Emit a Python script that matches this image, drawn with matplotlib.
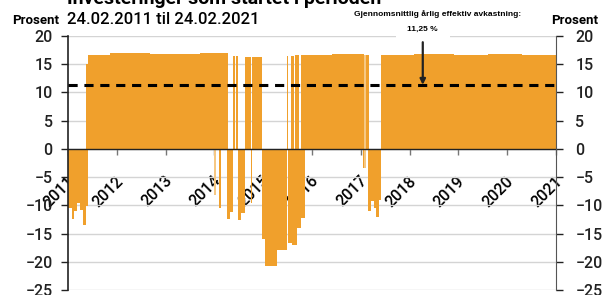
import numpy as np
import matplotlib
matplotlib.use('Agg')
import matplotlib.pyplot as plt
from matplotlib.transforms import ScaledTranslation

narrow = 'Roboto'

# segments (decimal years, value in percent)
seg_start = [2011.00, 2011.08, 2011.12, 2011.18, 2011.25, 2011.31, 2011.37,
             2011.37, 2011.41, 2011.86, 2012.68, 2013.70,
             2014.09, 2014.26, 2014.32, 2014.39, 2014.44, 2014.49, 2014.55,
             2014.63, 2014.74, 2014.78, 2014.97, 2015.04, 2015.28,
             2015.48, 2015.51, 2015.56, 2015.58, 2015.66, 2015.69, 2015.75,
             2015.77, 2016.40, 2017.04, 2017.10,
             2017.15, 2017.20, 2017.27, 2017.31, 2017.37,
             2017.41, 2018.10, 2018.90, 2019.60, 2020.30]
seg_end = [2011.08, 2011.12, 2011.18, 2011.25, 2011.31, 2011.37, 2011.41,
           2011.41, 2011.86, 2012.68, 2013.70, 2014.28,
           2014.13, 2014.32, 2014.39, 2014.42, 2014.49, 2014.55, 2014.63,
           2014.74, 2014.78, 2014.97, 2015.04, 2015.28, 2015.48,
           2015.51, 2015.58, 2015.64, 2015.69, 2015.74, 2015.77, 2015.86,
           2016.40, 2017.07, 2017.07, 2017.16,
           2017.20, 2017.27, 2017.31, 2017.37, 2017.41,
           2018.10, 2018.90, 2019.60, 2020.30, 2021.00]
seg_value = [-10.5, -12.5, -11.0, -9.5, -10.8, -13.5, -10.2,
             15.0, 16.6, 16.9, 16.8, 16.9,
             -10.5, -12.4, -11.1, 16.5, 16.5, -12.6, -11.4,
             16.3, -9.6, 16.2, -16.0, -20.8, -18.0,
             16.5, -16.7, 16.5, -17.0, 16.6, -14.0, -12.2,
             16.7, 16.8, -3.4, 16.6,
             -11.0, -9.3, -10.5, -12.0, -9.0,
             16.7, 16.8, 16.7, 16.8, 16.7]

# thin, partly covered days (drawn lighter)
faint_start = [2013.99, 2017.07, 2017.07]
faint_end = [2014.03, 2017.10, 2017.10]
faint_value = [-8.1, 16.6, -3.4]

avg_return = 11.25
avg_label = '11,25 %'
years = list(range(2011, 2022))

orange = '#F0A02C'

fig = plt.figure(figsize=(6.05, 2.95), dpi=100)
ax = fig.add_axes([68/605, 1-290/295, 488/605, 254/295])

ax.bar(seg_start, seg_value, width=np.array(seg_end) - np.array(seg_start),
       align='edge', color=orange, linewidth=0, zorder=2)
ax.bar(faint_start, faint_value, width=np.array(faint_end) - np.array(faint_start),
       align='edge', color='#F6C884', linewidth=0, zorder=2)

ax.axhline(avg_return, color='black', lw=2.2, dashes=(3, 2.2), zorder=4)
ax.axhline(0, color='#222222', lw=1.0, zorder=3)

ax.set_xlim(2011, 2021)
ax.set_ylim(-25, 20)
ax.set_yticks(range(-25, 21, 5))
ax.yaxis.grid(True, color='#d4d4d4', lw=1.0, zorder=0)
ax.set_axisbelow(True)

for s in ['top', 'right', 'bottom']:
    ax.spines[s].set_visible(False)
ax.spines['left'].set_color('#222222')
ax.spines['left'].set_linewidth(1.2)

ax.tick_params(axis='y', direction='out', length=5, width=1, pad=6,
               labelsize=11.5, colors='#222222')
ax.set_xticks(years)
ax.set_xticklabels([str(y) for y in years])
ax.tick_params(axis='x', direction='out', length=4, width=1, color='#777777',
               pad=0, labelsize=11.5)
# x ticks sit on the zero line
ax.spines['bottom'].set_position(('data', 0))
for lbl in ax.get_xticklabels():
    lbl.set_rotation(45)
    lbl.set_ha('center')
    lbl.set_va('center')
    lbl.set_fontfamily(narrow)
    lbl.set_fontweight('medium')
    lbl.set_transform(lbl.get_transform() + ScaledTranslation(-9/100, -37/100, fig.dpi_scale_trans))
for lbl in ax.get_yticklabels():
    lbl.set_fontfamily(narrow)
    lbl.set_fontweight('medium')

ax2 = ax.twinx()
ax2.set_ylim(-25, 20)
ax2.set_yticks(range(-25, 21, 5))
for s in ['top', 'left', 'bottom']:
    ax2.spines[s].set_visible(False)
ax2.spines['right'].set_color('#555555')
ax2.tick_params(axis='y', direction='out', length=5, width=1, pad=9,
                labelsize=11.5, colors='#222222')
for lbl in ax2.get_yticklabels():
    lbl.set_fontfamily(narrow)
    lbl.set_fontweight('medium')

# titles (top line is cut off in the original)
fig.text(67/605, 1-3.5/295, 'Investeringer som startet i perioden', fontsize=14,
         fontweight='bold', family=narrow, va='baseline', ha='left')
fig.text(67/605, 1-20/295, '24.02.2011 til 24.02.2021', fontsize=12,
         family=narrow, fontweight='medium', va='center', ha='left')
fig.text(12/605, 1-20/295, 'Prosent', fontsize=9.5, family=narrow,
         fontweight='bold', va='center', ha='left')
fig.text(551/605, 1-20/295, 'Prosent', fontsize=9.5, family=narrow,
         fontweight='bold', va='center', ha='left')

# annotation
fig.text(438/605, 1-14/295, 'Gjennomsnittlig årlig effektiv avkastning:',
         fontsize=6, fontweight='bold', family='Liberation Sans', ha='center', va='center')
ax.text(2018.27, 21.2, avg_label, fontsize=6, fontweight='bold',
        family='Liberation Sans', ha='center', va='center', zorder=5, clip_on=False,
        bbox=dict(facecolor='white', edgecolor='none', boxstyle='square,pad=1.4'))
ax.annotate('', xy=(2018.27, avg_return + 0.1), xytext=(2018.27, 18.9),
            arrowprops=dict(arrowstyle='-|>', color='#222222', lw=1.6,
                            mutation_scale=8, shrinkA=0, shrinkB=0),
            annotation_clip=False, zorder=5)

fig.savefig('out.png', dpi=100)
